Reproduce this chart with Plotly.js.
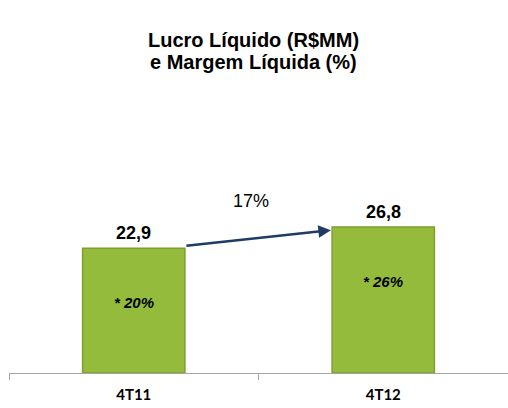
<!DOCTYPE html>
<html>
<head>
<meta charset="utf-8">
<script src="https://cdn.plot.ly/plotly-3.0.1.min.js"></script>
<style>body{margin:0;background:#fff}</style>
</head>
<body>
<div id="chart" style="width:508px;height:408px"></div>
<script>
var categories = ['4T11', '4T12'];
var lucro = [22.9, 26.8];
var lucroLabels = ['22,9', '26,8'];
var margem = ['* 20%', '* 26%'];
var growth = '17%';
var titleLines = ['Lucro Líquido (R$MM)', 'e Margem Líquida (%)'];

var data = [{
    x: categories,
    y: lucro,
    type: 'bar',
    width: 0.41,
    marker: {
        color: '#94bb3c',
        line: {color: '#7d9f2c', width: 1.5}
    },
    hoverinfo: 'none'
}];

var annotations = [];
for (var i = 0; i < categories.length; i++) {
    annotations.push({
        x: categories[i], y: lucro[i], text: '<b>' + lucroLabels[i] + '</b>',
        showarrow: false, yanchor: 'bottom', yshift: 3,
        font: {family: 'Liberation Sans, Arial', size: 18, color: '#000'}
    });
    annotations.push({
        x: categories[i], y: lucro[i] - 10, text: '<b><i>' + margem[i] + '</i></b>',
        showarrow: false,
        font: {family: 'Liberation Sans, Arial', size: 15, color: '#000'}
    });
}
// title as two lines, to match the tight line spacing
for (var j = 0; j < titleLines.length; j++) {
    annotations.push({
        xref: 'paper', yref: 'paper', x: 0.49, y: 1 + (128 - 22 * j) / 218,
        text: '<b>' + titleLines[j] + '</b>', showarrow: false,
        font: {family: 'Liberation Sans, Arial', size: 20, color: '#000'}
    });
}
// growth arrow between the two bars
annotations.push({
    x: 0.79, y: lucro[1] - 0.6, ax: 0.205, ay: lucro[0] + 0.4,
    xref: 'x', yref: 'y', axref: 'x', ayref: 'y',
    text: '', showarrow: true, arrowhead: 2, arrowsize: 1, arrowwidth: 2.5,
    arrowcolor: '#1f3b66'
});
annotations.push({
    x: 0.47, y: 31.6, xref: 'x', yref: 'y', text: growth, showarrow: false,
    font: {family: 'Liberation Sans, Arial', size: 18, color: '#000'}
});

var layout = {
    width: 508,
    height: 408,
    margin: {l: 9, r: 0, t: 155, b: 35},
    paper_bgcolor: '#fff',
    plot_bgcolor: '#fff',
    showlegend: false,
    xaxis: {
        type: 'category',
        range: [-0.5, 1.5],
        showline: true, linecolor: '#a6a6a6', linewidth: 1,
        ticks: 'outside', tickson: 'boundaries', ticklen: 6, tickcolor: '#a6a6a6',
        ticklabelstandoff: 8,
        tickfont: {family: 'Lato, Carlito, sans-serif', size: 15, color: '#000', weight: 'bold'},
        showgrid: false, zeroline: false
    },
    yaxis: {
        range: [0, 40],
        visible: false,
        showgrid: false, zeroline: false
    },
    annotations: annotations
};

Plotly.newPlot('chart', data, layout, {staticPlot: true});
</script>
</body>
</html>
